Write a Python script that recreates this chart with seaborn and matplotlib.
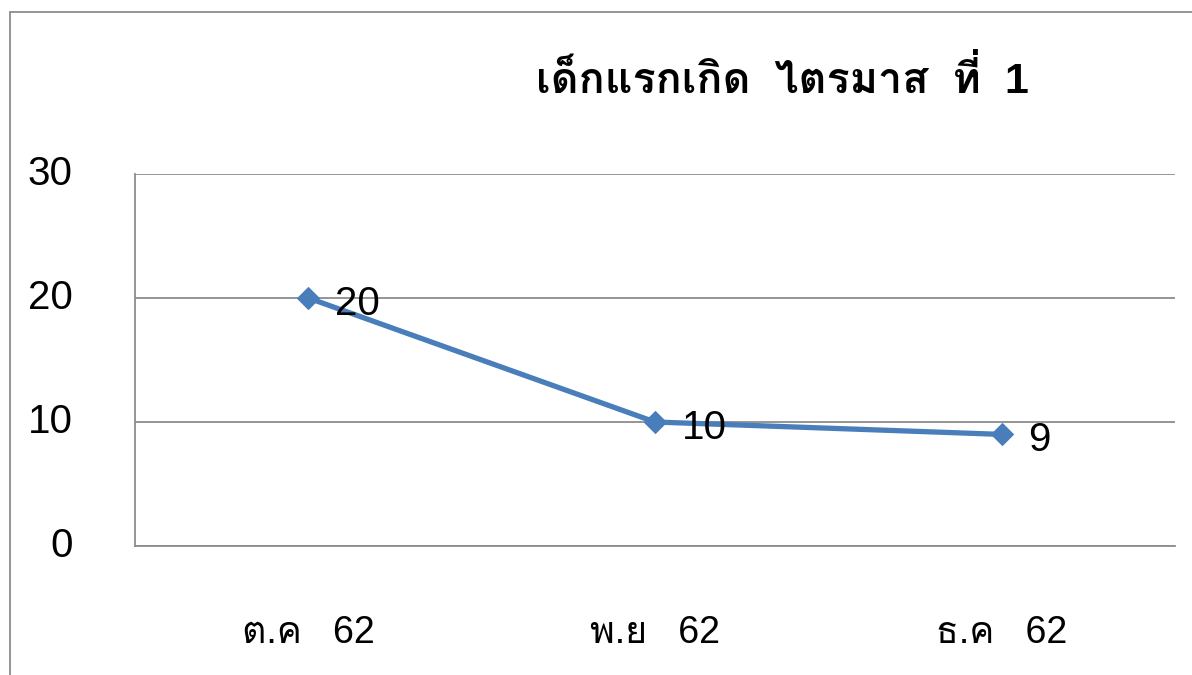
import matplotlib
matplotlib.use("Agg")
import matplotlib.pyplot as plt
import pandas as pd
import seaborn as sns
from matplotlib import font_manager
from matplotlib.ft2font import FT2Font
from matplotlib.lines import Line2D
from matplotlib.transforms import ScaledTranslation

# datos
meses = ["ต.ค   62", "พ.ย   62", "ธ.ค   62"]
valores = [20, 10, 9]
titulo = "เด็กแรกเกิด  ไตรมาส  ที่  1"
ticks_y = [0, 10, 20, 30]


def buscar_fuente_thai():
    # primera fuente instalada que tenga glifos tailandeses
    for f in font_manager.fontManager.ttflist:
        try:
            if ord("ก") in FT2Font(f.fname).get_charmap():
                return f.name
        except Exception:
            pass
    return None


def main():
    sns.set_style("white")
    familias = ["Liberation Sans"]
    thai = buscar_fuente_thai()
    if thai:
        familias.append(thai)
    familias.append("DejaVu Sans")
    plt.rcParams["font.family"] = familias
    plt.rcParams["text.color"] = "black"
    plt.rcParams["xtick.color"] = "black"
    plt.rcParams["ytick.color"] = "black"

    df = pd.DataFrame({"mes": meses, "valor": valores})

    fig = plt.figure(figsize=(11.92, 6.75), dpi=100)
    ax = fig.add_axes([135 / 1192, 1 - 546 / 675, (1175 - 135) / 1192, (546 - 174) / 675])

    azul = "#4A7EBB"
    sns.lineplot(data=df, x="mes", y="valor", ax=ax, color=azul, linewidth=3.8,
                 marker="D", markersize=11, markeredgecolor=azul, sort=False)

    ax.set_xlim(-0.5, len(meses) - 0.5)
    ax.set_ylim(0, 30)
    ax.set_yticks(ticks_y)
    ax.yaxis.grid(True, color="#8c8c8c", linewidth=1.3)
    ax.set_axisbelow(True)
    for s in ["top", "right"]:
        ax.spines[s].set_visible(False)
    for s in ["left", "bottom"]:
        ax.spines[s].set_color("#8c8c8c")
        ax.spines[s].set_linewidth(1.3)
    ax.tick_params(axis="y", length=0, pad=45, labelsize=29, labelcolor="black")
    ax.tick_params(axis="x", length=0, pad=50, labelsize=27, labelcolor="black")
    ax.set_xlabel("")
    ax.set_ylabel("")
    # las etiquetas del eje y quedan un poco por encima de la linea
    sube = ScaledTranslation(0, 4 / 100, fig.dpi_scale_trans)
    for lab in ax.get_yticklabels():
        lab.set_transform(lab.get_transform() + sube)

    for i, v in enumerate(valores):
        ax.annotate(str(v), (i, v), xytext=(19, -4), textcoords="offset points",
                    ha="left", va="center", fontsize=29, color="black")

    fig.text(782 / 1192, 1 - 80 / 675, titulo, ha="center", va="center",
             fontsize=31, fontweight="bold", color="black")

    # marco exterior del grafico (cortado a la derecha y abajo)
    gris = "#8c8c8c"
    fig.lines.append(Line2D([10 / 1192, 1.01], [1 - 12 / 675] * 2,
                            transform=fig.transFigure, color=gris, linewidth=1.3))
    fig.lines.append(Line2D([10 / 1192] * 2, [-0.01, 1 - 12 / 675],
                            transform=fig.transFigure, color=gris, linewidth=1.3))

    fig.savefig("out.png", dpi=100)


if __name__ == "__main__":
    main()
